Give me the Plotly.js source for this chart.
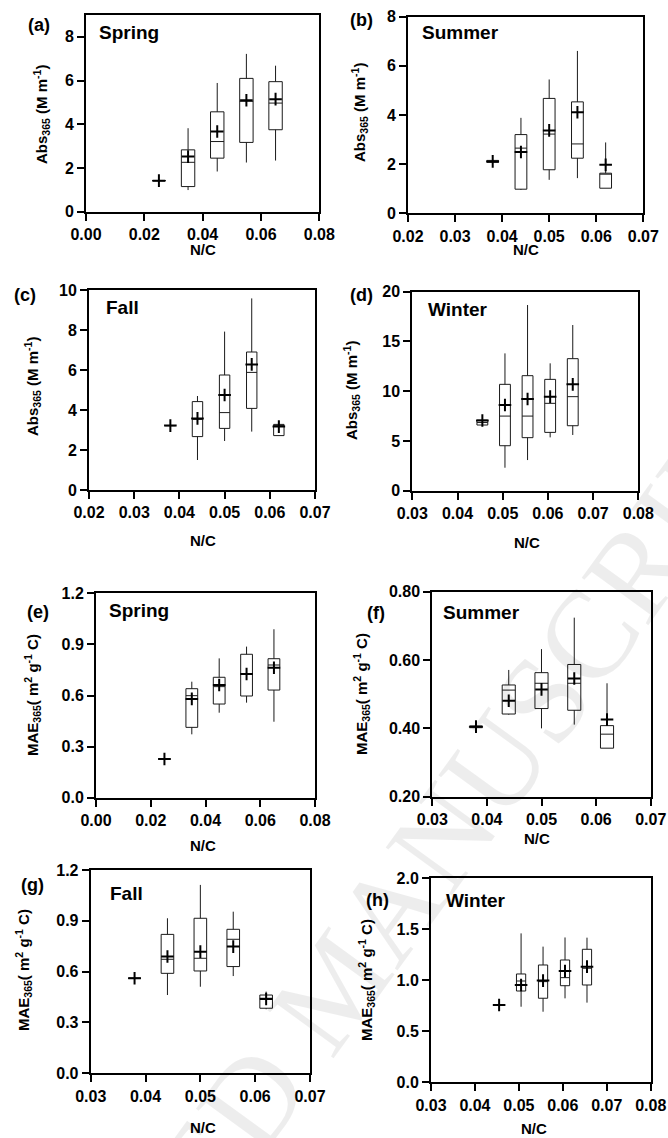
<!DOCTYPE html>
<html>
<head>
<meta charset="utf-8">
<script src="https://cdn.plot.ly/plotly-3.0.1.min.js"></script>
<style>html,body{margin:0;padding:0;background:#fff;}#chart{width:668px;height:1138px;}</style>
</head>
<body>
<div id="chart"></div>
<script>
// ---- data ----
// (a) Spring, Abs365
const aX    = [0.025, 0.035, 0.045, 0.055, 0.065];
const aLo   = [1.42, 0.99, 1.84, 2.25, 2.34];
const aQ1   = [1.42, 1.15, 2.45, 3.17, 3.75];
const aMed  = [1.42, 2.26, 3.21, 5.05, 4.97];
const aQ3   = [1.42, 2.83, 4.57, 6.10, 5.95];
const aHi   = [1.42, 3.82, 5.89, 7.22, 6.68];
const aMean = [1.42, 2.52, 3.67, 5.10, 5.15];
// (b) Summer, Abs365
const bX    = [0.038, 0.044, 0.050, 0.056, 0.062];
const bLo   = [2.07, 0.95, 1.36, 1.43, 1.02];
const bQ1   = [2.07, 0.98, 1.77, 2.24, 1.02];
const bMed  = [2.11, 2.65, 3.22, 2.82, 1.60];
const bQ3   = [2.15, 3.20, 4.67, 4.53, 1.63];
const bHi   = [2.15, 3.88, 5.44, 6.60, 2.88];
const bMean = [2.11, 2.49, 3.37, 4.11, 1.97];
// (c) Fall, Abs365
const cX    = [0.038, 0.044, 0.050, 0.056, 0.062];
const cLo   = [3.22, 1.50, 2.45, 2.92, 2.72];
const cQ1   = [3.22, 2.67, 3.08, 4.08, 2.72];
const cMed  = [3.22, 3.53, 3.87, 5.88, 3.22];
const cQ3   = [3.22, 4.42, 5.75, 6.90, 3.28];
const cHi   = [3.22, 4.70, 7.92, 9.58, 3.45];
const cMean = [3.22, 3.58, 4.75, 6.28, 3.17];
// (d) Winter, Abs365
const dX    = [0.0455, 0.0505, 0.0555, 0.0605, 0.0655];
const dLo   = [6.6, 2.31, 3.08, 5.36, 5.60];
const dQ1   = [6.6, 4.52, 5.33, 5.86, 6.53];
const dMed  = [6.85, 7.50, 7.50, 8.78, 9.45];
const dQ3   = [7.1, 10.69, 11.56, 11.19, 13.27];
const dHi   = [7.1, 13.8, 18.66, 12.8, 16.65];
const dMean = [7.05, 8.61, 9.21, 9.45, 10.69];
// (e) Spring, MAE365
const eX    = [0.025, 0.035, 0.045, 0.055, 0.065];
const eLo   = [0.227, 0.372, 0.499, 0.558, 0.446];
const eQ1   = [0.227, 0.413, 0.550, 0.597, 0.632];
const eMed  = [0.227, 0.599, 0.652, 0.725, 0.779];
const eQ3   = [0.227, 0.640, 0.707, 0.842, 0.816];
const eHi   = [0.227, 0.681, 0.818, 0.887, 0.989];
const eMean = [0.227, 0.580, 0.662, 0.726, 0.763];
// (f) Summer, MAE365
const fX    = [0.038, 0.044, 0.050, 0.056, 0.062];
const fLo   = [0.402, 0.440, 0.400, 0.411, 0.342];
const fQ1   = [0.402, 0.442, 0.458, 0.453, 0.342];
const fMed  = [0.405, 0.512, 0.532, 0.532, 0.383];
const fQ3   = [0.407, 0.527, 0.563, 0.587, 0.408];
const fHi   = [0.407, 0.571, 0.632, 0.724, 0.532];
const fMean = [0.405, 0.481, 0.514, 0.546, 0.426];
// (g) Fall, MAE365
const gX    = [0.038, 0.044, 0.050, 0.056, 0.062];
const gLo   = [0.561, 0.462, 0.511, 0.574, 0.378];
const gQ1   = [0.561, 0.590, 0.604, 0.630, 0.384];
const gMed  = [0.561, 0.673, 0.679, 0.791, 0.443];
const gQ3   = [0.561, 0.820, 0.915, 0.850, 0.462];
const gHi   = [0.561, 0.915, 1.112, 0.954, 0.482];
const gMean = [0.561, 0.689, 0.718, 0.748, 0.439];
// (h) Winter, MAE365
const hX    = [0.0455, 0.0505, 0.0555, 0.0605, 0.0655];
const hLo   = [0.758, 0.741, 0.692, 0.823, 0.781];
const hQ1   = [0.758, 0.895, 0.824, 0.947, 0.954];
const hMed  = [0.758, 0.993, 0.987, 1.026, 1.118];
const hQ3   = [0.758, 1.062, 1.150, 1.199, 1.304];
const hHi   = [0.758, 1.460, 1.330, 1.420, 1.418];
const hMean = [0.758, 0.954, 0.997, 1.090, 1.134];

const panelLetters = ['(a)','(b)','(c)','(d)','(e)','(f)','(g)','(h)'];
const seasons = ['Spring','Summer','Fall','Winter','Spring','Summer','Fall','Winter'];
const xTitle = 'N/C';
const absTitle = 'Abs<sub>365</sub> (M m<sup>-1</sup>)';
const maeTitle = 'MAE<sub>365</sub>( m<sup>2</sup> g<sup>-1</sup> C)';
const watermark = 'ACCEPTED MANUSCRIPT';

// ---- layout / styling ----
const W = 668, H = 1138;
const FONT = 'Liberation Sans, Arial, Helvetica, sans-serif';
const panels = [
  {d:[aX,aLo,aQ1,aMed,aQ3,aHi,aMean], bw:0.0046, px:[86,319.3],  py:[15,211.7],   xr:[0,0.08],    xd:0.02, xf:'.2f', yr:[0,9],   yd:2,   yf:'', yt:absTitle, ytPos:[42,115],  lab:[39,25],    sea:[97,32],    nc:[203,250]},
  {d:[bX,bLo,bQ1,bMed,bQ3,bHi,bMean], bw:0.0025, px:[408,643.3], py:[16.5,213.3], xr:[0.02,0.07], xd:0.01, xf:'.2f', yr:[0,8],   yd:2,   yf:'', yt:absTitle, ytPos:[359,113], lab:[361,20],   sea:[420,33],   nc:[526,250]},
  {d:[cX,cLo,cQ1,cMed,cQ3,cHi,cMean], bw:0.0023, px:[89,315],    py:[290,490],    xr:[0.02,0.07], xd:0.01, xf:'.2f', yr:[0,10],  yd:2,   yf:'', yt:absTitle, ytPos:[33,387],  lab:[25,295],   sea:[104,307],  nc:[203,540]},
  {d:[dX,dLo,dQ1,dMed,dQ3,dHi,dMean], bw:0.0024, px:[412.3,638.3],py:[291.7,490.7],xr:[0.03,0.08], xd:0.01, xf:'.2f', yr:[0,20],  yd:5,   yf:'', yt:absTitle, ytPos:[351,390], lab:[361,295],  sea:[426,310],  nc:[527,542]},
  {d:[eX,eLo,eQ1,eMed,eQ3,eHi,eMean], bw:0.0043, px:[96,315],    py:[593.3,797.7],xr:[0,0.08],    xd:0.02, xf:'.2f', yr:[0,1.2], yd:0.3, yf:'.1f', yt:maeTitle, ytPos:[32,695], lab:[38,612],  sea:[107,610],  nc:[203,845]},
  {d:[fX,fLo,fQ1,fMed,fQ3,fHi,fMean], bw:0.0024, px:[432.3,650.7],py:[591.7,796.7],xr:[0.03,0.07], xd:0.01, xf:'.2f', yr:[0.2,0.8],yd:0.2,yf:'.2f', yt:maeTitle, ytPos:[361,694], lab:[376,613], sea:[441,612],  nc:[537,838]},
  {d:[gX,gLo,gQ1,gMed,gQ3,gHi,gMean], bw:0.0023, px:[90.7,310],  py:[870,1073.3], xr:[0.03,0.07], xd:0.01, xf:'.2f', yr:[0,1.2], yd:0.3, yf:'.1f', yt:maeTitle, ytPos:[23,970],  lab:[32,885],  sea:[108,893],  nc:[203,1127]},
  {d:[hX,hLo,hQ1,hMed,hQ3,hHi,hMean], bw:0.0021, px:[431,650.7], py:[878.3,1082.3],xr:[0.03,0.08], xd:0.01, xf:'.2f', yr:[0,2.0], yd:0.5, yf:'.1f', yt:maeTitle, ytPos:[366,980], lab:[377,900], sea:[444,900],  nc:[534,1128]}
];

const traces = [];
const layout = {
  width: W, height: H,
  margin: {l:0, r:0, t:0, b:0},
  paper_bgcolor: '#fff', plot_bgcolor: 'rgba(0,0,0,0)',
  showlegend: false,
  font: {family: FONT, color: '#000'},
  annotations: []
};

const px2x = v => v / W;
const px2y = v => 1 - v / H;

// faint diagonal watermark (behind-looking, very light)
layout.annotations.push({
  xref: 'paper', yref: 'paper', x: px2x(335), y: px2y(985),
  xanchor: 'center', yanchor: 'middle', textangle: -54, showarrow: false,
  text: watermark, font: {family: 'Liberation Serif, Times New Roman, serif', size: 125, color: 'rgba(0,0,0,0.07)'}
});

panels.forEach((p, i) => {
  const n = i + 1;
  const xa = n === 1 ? 'x' : 'x' + n;
  const ya = n === 1 ? 'y' : 'y' + n;
  const [X, Lo, Q1, Med, Q3, Hi, Mean] = p.d;
  traces.push({
    type: 'box', xaxis: xa, yaxis: ya,
    x: X, lowerfence: Lo, q1: Q1, median: Med, q3: Q3, upperfence: Hi,
    width: p.bw, whiskerwidth: 0,
    line: {color: '#1a1a1a', width: 1},
    fillcolor: 'rgba(255,255,255,0)',
    boxpoints: false, hoverinfo: 'skip'
  });
  traces.push({
    type: 'scatter', mode: 'markers', xaxis: xa, yaxis: ya,
    x: X, y: Mean,
    marker: {symbol: 'cross-thin', size: 9, color: '#000', line: {color: '#000', width: 2}},
    hoverinfo: 'skip'
  });
  const axBase = {
    showgrid: false, zeroline: false, showline: true, mirror: true,
    linewidth: 2, linecolor: '#000',
    ticks: 'outside', ticklen: 7, tickwidth: 2, tickcolor: '#000',
    tickprefix: '<b>', ticksuffix: '</b>',
    tickfont: {family: FONT, size: 16, weight: 700, color: '#000'},
    fixedrange: true
  };
  const xKey = n === 1 ? 'xaxis' : 'xaxis' + n;
  const yKey = n === 1 ? 'yaxis' : 'yaxis' + n;
  layout[xKey] = Object.assign({}, axBase, {
    domain: [px2x(p.px[0]), px2x(p.px[1])], anchor: ya,
    range: p.xr, tick0: p.xr[0], dtick: p.xd, tickformat: p.xf
  });
  layout[yKey] = Object.assign({}, axBase, {
    domain: [px2y(p.py[1]), px2y(p.py[0])], anchor: xa,
    range: p.yr, tick0: p.yr[0], dtick: p.yd, tickformat: p.yf
  });
  layout.annotations.push({
    xref: 'paper', yref: 'paper', x: px2x(p.ytPos[0]), y: px2y(p.ytPos[1]),
    xanchor: 'center', yanchor: 'middle', textangle: -90, showarrow: false,
    text: '<b>' + p.yt + '</b>', font: {family: FONT, size: 15, weight: 700, color: '#000'}
  });
  layout.annotations.push({
    xref: 'paper', yref: 'paper', x: px2x(p.nc[0]), y: px2y(p.nc[1]),
    xanchor: 'center', yanchor: 'middle', showarrow: false,
    text: '<b>' + xTitle + '</b>', font: {family: FONT, size: 15, weight: 700, color: '#000'}
  });
  layout.annotations.push({
    xref: 'paper', yref: 'paper', x: px2x(p.lab[0]), y: px2y(p.lab[1]),
    xanchor: 'center', yanchor: 'middle', showarrow: false,
    text: '<b>' + panelLetters[i] + '</b>', font: {family: FONT, size: 18, weight: 700, color: '#000'}
  });
  layout.annotations.push({
    xref: 'paper', yref: 'paper', x: px2x(p.sea[0]), y: px2y(p.sea[1]),
    xanchor: 'left', yanchor: 'middle', showarrow: false,
    text: '<b>' + seasons[i] + '</b>', font: {family: FONT, size: 19, weight: 700, color: '#000'}
  });
});

Plotly.newPlot('chart', traces, layout, {staticPlot: true, displayModeBar: false});
</script>
</body>
</html>
